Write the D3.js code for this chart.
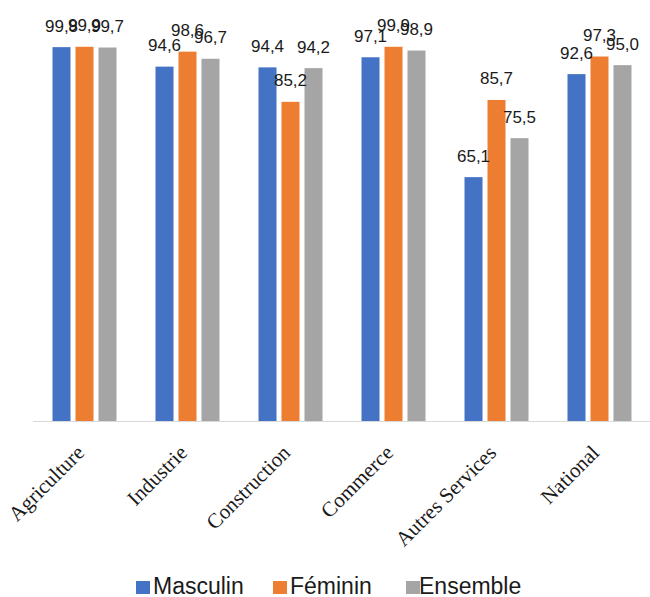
<!DOCTYPE html>
<html>
<head>
<meta charset="utf-8">
<script src="https://cdn.jsdelivr.net/npm/d3@7"></script>
<style>
  html, body { margin: 0; padding: 0; background: #fff; }
  svg { display: block; }
</style>
</head>
<body>
<svg id="chart" width="650" height="597"></svg>
<script>
// Secteurs d'activité
const categories = ["Agriculture", "Industrie", "Construction", "Commerce", "Autres Services", "National"];
// Séries par sexe
const seriesNames = ["Masculin", "Féminin", "Ensemble"];
const masculin = [99.8, 94.6, 94.4, 97.1, 65.1, 92.6];
const feminin  = [99.9, 98.6, 85.2, 99.9, 85.7, 97.3];
const ensemble = [99.7, 96.7, 94.2, 98.9, 75.5, 95.0];
const colors = ["#4472C4", "#ED7D31", "#A5A5A5"];

const seriesValues = [masculin, feminin, ensemble];

const svg = d3.select("#chart");
const plot = { left: 33, right: 651, bottom: 421, top: 46.4 };

const x0 = d3.scaleBand().domain(categories).range([plot.left, plot.right]).padding(0);
const groupW = 64;
const x1 = d3.scaleBand().domain(seriesNames).range([0, groupW]).paddingInner(0.217).paddingOuter(0);
const y = d3.scaleLinear().domain([0, 100]).range([plot.bottom, plot.top]);

const fmt = v => d3.format(".1f")(v).replace(".", ",");

// Baseline
svg.append("line")
  .attr("x1", plot.left).attr("x2", 650)
  .attr("y1", plot.bottom + 0.5).attr("y2", plot.bottom + 0.5)
  .attr("stroke", "#D9D9D9").attr("stroke-width", 1);

const groups = svg.selectAll("g.cat")
  .data(categories)
  .join("g")
  .attr("class", "cat")
  .attr("transform", c => `translate(${x0(c) + (x0.bandwidth() - groupW) / 2},0)`);

const rows = (c, i) => seriesNames.map((s, k) => ({ s, k, v: seriesValues[k][i] }));

groups.selectAll("rect")
  .data((c, i) => rows(c, i))
  .join("rect")
  .attr("x", d => x1(d.s))
  .attr("width", x1.bandwidth())
  .attr("y", d => y(d.v))
  .attr("height", d => y(0) - y(d.v))
  .attr("fill", d => colors[d.k]);

// Value labels
groups.selectAll("text.val")
  .data((c, i) => rows(c, i))
  .join("text")
  .attr("class", "val")
  .attr("x", d => x1(d.s) + x1.bandwidth() / 2)
  .attr("y", d => y(d.v) - 15.5)
  .attr("text-anchor", "middle")
  .attr("font-family", "'Liberation Sans', Arial, sans-serif")
  .attr("font-size", 17)
  .attr("fill", "#1a1a1a")
  .text(d => fmt(d.v));

// Category labels, rotated
svg.selectAll("text.cat")
  .data(categories)
  .join("text")
  .attr("class", "cat")
  .attr("transform", c => `translate(${x0(c) + x0.bandwidth() / 2 + 1},${plot.bottom + 33}) rotate(-45)`)
  .attr("text-anchor", "end")
  .attr("font-family", "'Liberation Serif', 'Times New Roman', serif")
  .attr("font-size", 21)
  .attr("fill", "#1a1a1a")
  .text(c => c);

// Legend
const legendItems = [
  { name: "Masculin", sx: 136, tx: 153 },
  { name: "Féminin", sx: 273, tx: 290 },
  { name: "Ensemble", sx: 406, tx: 419 }
];
const legend = svg.append("g");
legend.selectAll("rect")
  .data(legendItems)
  .join("rect")
  .attr("x", d => d.sx).attr("y", 581)
  .attr("width", 14).attr("height", 13)
  .attr("fill", (d, i) => colors[i]);
legend.selectAll("text")
  .data(legendItems)
  .join("text")
  .attr("x", d => d.tx).attr("y", 594)
  .attr("font-family", "'Liberation Sans', Arial, sans-serif")
  .attr("font-size", 23)
  .attr("fill", "#1a1a1a")
  .text(d => d.name);
</script>
</body>
</html>
